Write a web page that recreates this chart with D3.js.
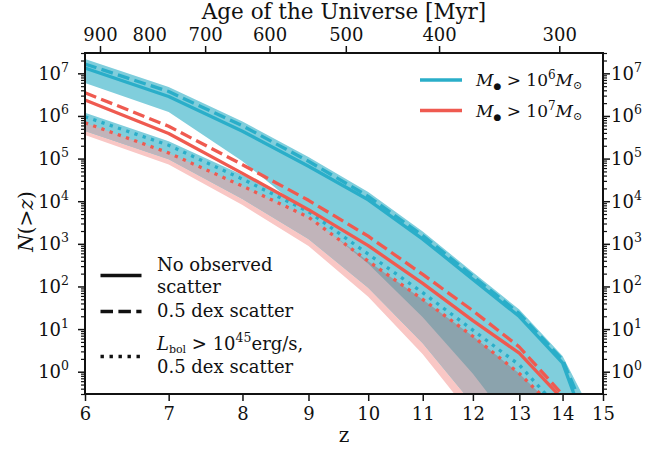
<!DOCTYPE html>
<html><head><meta charset="utf-8">
<script src="https://cdn.jsdelivr.net/npm/d3@7"></script>
<style>
body{margin:0;background:#fff}
text{font-family:'DejaVu Serif',serif;fill:#111}
</style>
</head><body>
<svg id="chart" width="670" height="450"></svg>
<script>
// ---------------- data ----------------
const redshifts = [6,7,8,9,10,11,12,13,14,15];
// M_BH > 1e6 Msun (cyan)
const cyanSolid  = [1.334e7,2.858e6,4.385e5,6.607e4,1.079e4,1291,146.9,19.68,1.611,0.00422];
const cyanDashed = [1.656e7,3.741e6,5.888e5,8.650e4,1.303e4,1560,174.6,23.12,1.892,0.01119];
const cyanDotted = [9.594e5,2.056e5,3.304e4,5702,574.1,71.61,9.441,1.439,0.1096,0.000404];
const cyanBandUpper = [2.168e7,4.775e6,7.396e5,1.086e5,1.637e4,1936,216.8,28.77,2.350,0.0334];
const cyanBandLower = [5.929e6,1.242e6,8.690e4,4819,338.8,19.05,0.8995,0.0342,0.00102,3.8e-5];
const cyanDotBandUpper = [1.191e6,2.553e5,4.102e4,7079,712.9,88.92,11.72,1.786,0.1361,0.000501];
const cyanDotBandLower = [4.426e5,9.594e4,1.127e4,1303,92.90,4.667,0.1738,0.00736,0.00031,1.355e-5];
// M_BH > 1e7 Msun (red)
const redSolid  = [2.366e6,3.864e5,4.498e4,6324,907.8,118.3,15.85,2.723,0.2275,0.000838];
const redDashed = [3.508e6,5.741e5,7.194e4,1.050e4,1510,191.4,27.04,3.802,0.2904,0.001334];
const redDotted = [6.934e5,1.361e5,2.265e4,4236,392.6,49.77,6.776,0.9078,0.0918,0.000429];
const redDotBandLower = [3.565e5,7.311e4,8147,893.3,57.02,2.576,0.0859,0.00327,0.000124,4.85e-6];
// axes
const zTicks = [6,7,8,9,10,11,12,13,14,15];
const ageTicks = [900,800,700,600,500,400,300];
const decadeExps = [0,1,2,3,4,5,6,7];

// ---------------- layout ----------------
const L=85,R=603,T=53,B=394;
const svg = d3.select('#chart');
const xs = d3.scaleLog().domain([7,16]).range([L,R]);   // in (1+z)
const X = z => xs(1+z);
const y = d3.scaleLog().domain([0.3,3e7]).range([B,T]);

const CYAN='#2aaec9', RED='#ef5a50';
const LIGHTC='#80cedc', PINK='#f9c7c5', MAUVE='#c1b4ba', DARK='#8ba3ad';

// age (Myr) -> z, flat LCDM (H0=67.7, Om=0.31)
function zFromAge(tMyr){
  const A=11.592, k=1.4919;
  return Math.pow(Math.sinh(tMyr/1000/A)/k,-2/3)-1;
}

const defs = svg.append('defs');
defs.append('clipPath').attr('id','plotclip').append('rect')
  .attr('x',L).attr('y',T).attr('width',R-L).attr('height',B-T);

function rows(lo,hi){ return redshifts.map((z,i)=>({z,lo:lo[i],hi:hi[i]})); }
const area = d3.area().x(d=>X(d.z)).y0(d=>y(d.lo)).y1(d=>y(d.hi));
const bandM = rows(cyanBandLower,cyanBandUpper);
const bandD = rows(cyanDotBandLower,cyanDotBandUpper);
const bandP = rows(redDotBandLower,redDotted);

defs.append('clipPath').attr('id','clipM').append('path').attr('d',area(bandM));
defs.append('clipPath').attr('id','clipD').append('path').attr('d',area(bandD));

const g = svg.append('g').attr('clip-path','url(#plotclip)');
g.append('path').attr('d',area(bandP)).attr('fill',PINK);
g.append('path').attr('d',area(bandD)).attr('fill',LIGHTC);
g.append('path').attr('d',area(bandM)).attr('fill',LIGHTC);
g.append('g').attr('clip-path','url(#clipD)').append('path').attr('d',area(bandP)).attr('fill',MAUVE);
g.append('g').attr('clip-path','url(#clipM)').append('path').attr('d',area(bandP)).attr('fill',DARK);

const line = d3.line().x(d=>X(d.z)).y(d=>y(d.v));
function series(vals){ return redshifts.map((z,i)=>({z,v:vals[i]})); }
const LW=3.3, DASH='12,5.3', DOT='3.3,5.4';
const lineSpecs = [
  [cyanSolid,CYAN,null],[cyanDashed,CYAN,DASH],[cyanDotted,CYAN,DOT],
  [redSolid,RED,null],[redDashed,RED,DASH],[redDotted,RED,DOT]
];
lineSpecs.forEach(([vals,col,dash])=>{
  g.append('path').attr('d',line(series(vals))).attr('fill','none')
   .attr('stroke',col).attr('stroke-width',LW).attr('stroke-linejoin','round')
   .attr('stroke-dasharray',dash).attr('stroke-linecap','butt');
});

// ---------------- axes ----------------
const minorVals=[];
for(let e=-1;e<=7;e++) for(let m=2;m<=9;m++){const v=m*Math.pow(10,e); if(v>=0.3&&v<=3e7) minorVals.push(v);}
const majorVals = decadeExps.map(e=>Math.pow(10,e));

function styleAxis(sel,w,keepText){
  sel.selectAll('.domain').remove();
  sel.selectAll('line').attr('stroke','#111').attr('stroke-width',w);
  if(!keepText) sel.selectAll('text').remove();
  else sel.selectAll('text').attr('font-size',18).attr('font-family',"'DejaVu Serif',serif").attr('fill','#111');
}

svg.append('g').attr('transform',`translate(${L},0)`).call(d3.axisLeft(y).tickValues(minorVals).tickSize(4).tickSizeOuter(0)).call(s=>styleAxis(s,1.2));
svg.append('g').attr('transform',`translate(${L},0)`).call(d3.axisLeft(y).tickValues(majorVals).tickSize(7).tickSizeOuter(0)).call(s=>styleAxis(s,1.5));
svg.append('g').attr('transform',`translate(${R},0)`).call(d3.axisRight(y).tickValues(minorVals).tickSize(4).tickSizeOuter(0)).call(s=>styleAxis(s,1.2));
svg.append('g').attr('transform',`translate(${R},0)`).call(d3.axisRight(y).tickValues(majorVals).tickSize(7).tickSizeOuter(0)).call(s=>styleAxis(s,1.5));

svg.append('g').attr('transform',`translate(0,${B})`)
  .call(d3.axisBottom(xs).tickValues(zTicks.map(z=>1+z)).tickFormat(v=>Math.round(v-1)).tickSize(7).tickSizeOuter(0).tickPadding(6))
  .call(s=>styleAxis(s,1.5,true));
const ageZ = ageTicks.map(a=>1+zFromAge(a));
svg.append('g').attr('transform',`translate(0,${T})`)
  .call(d3.axisTop(xs).tickValues(ageZ).tickFormat((v,i)=>ageTicks[i]).tickSize(7).tickSizeOuter(0).tickPadding(5))
  .call(s=>styleAxis(s,1.5,true));

// y labels with superscripts
decadeExps.forEach(e=>{
  const yy = y(Math.pow(10,e))+6.5;
  [[L-16,'end'],[R+8,'start']].forEach(([xx,anc])=>{
    const t = svg.append('text').attr('x',xx).attr('y',yy).attr('text-anchor',anc).attr('font-size',18);
    t.append('tspan').text('10');
    t.append('tspan').attr('dy',-8).attr('font-size',12.5).text(e);
  });
});

// frame
svg.append('rect').attr('x',L).attr('y',T).attr('width',R-L).attr('height',B-T)
  .attr('fill','none').attr('stroke','#111').attr('stroke-width',2);

// axis titles
svg.append('text').attr('x',(L+R)/2).attr('y',442).attr('text-anchor','middle').attr('font-size',20).text('z');
svg.append('text').attr('x',344).attr('y',19).attr('text-anchor','middle').attr('font-size',21.5).text('Age of the Universe [Myr]');
const yl = svg.append('text').attr('transform',`translate(33,${(T+B)/2-2}) rotate(-90)`).attr('text-anchor','middle').attr('font-size',20);
yl.append('tspan').attr('font-style','italic').text('N');
yl.append('tspan').text('(>');
yl.append('tspan').attr('font-style','italic').text('z');
yl.append('tspan').text(')');

// ---------------- legends ----------------
function massLabel(yy,exp,col){
  svg.append('line').attr('x1',420).attr('x2',462).attr('y1',yy).attr('y2',yy).attr('stroke',col).attr('stroke-width',3.5);
  const t = svg.append('text').attr('x',476).attr('y',yy+6).attr('font-size',17);
  t.append('tspan').attr('font-style','italic').text('M');
  t.append('tspan').attr('dy',3).attr('font-size',9).text('●');
  t.append('tspan').attr('dy',-3).text(' > 10');
  t.append('tspan').attr('dy',-7).attr('font-size',12).text(exp);
  t.append('tspan').attr('dy',7).attr('font-style','italic').text('M');
  t.append('tspan').attr('dy',3).attr('font-size',11).text('⊙');
}
massLabel(80,'6',CYAN);
massLabel(110.5,'7',RED);

const lg = svg.append('g');
function styleLine(yy,dash){
  lg.append('line').attr('x1',100.5).attr('x2',141.5).attr('y1',yy).attr('y2',yy)
    .attr('stroke','#111').attr('stroke-width',3.4).attr('stroke-dasharray',dash);
}
styleLine(275.5,null); styleLine(311.5,'12.5,5.4'); styleLine(356.5,'3.4,5.6');
lg.append('text').attr('x',157).attr('y',271).attr('font-size',18).text('No observed');
lg.append('text').attr('x',157).attr('y',293).attr('font-size',18).text('scatter');
lg.append('text').attr('x',157).attr('y',317).attr('font-size',18).text('0.5 dex scatter');
const lb = lg.append('text').attr('x',157).attr('y',350).attr('font-size',18);
lb.append('tspan').attr('font-style','italic').text('L');
lb.append('tspan').attr('dy',3).attr('font-size',11).text('bol');
lb.append('tspan').attr('dy',-3).text(' > 10');
lb.append('tspan').attr('dy',-8).attr('font-size',12.5).text('45');
lb.append('tspan').attr('dy',8).text('erg/s,');
lg.append('text').attr('x',157).attr('y',373).attr('font-size',18).text('0.5 dex scatter');
</script>
</body></html>
